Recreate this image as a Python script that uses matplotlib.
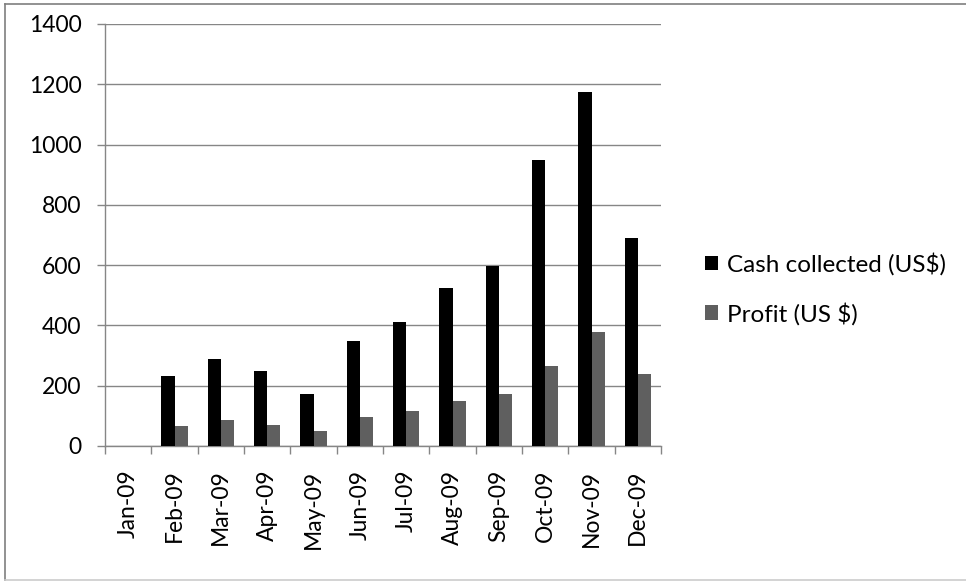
import matplotlib.pyplot as plt
import numpy as np
from matplotlib.lines import Line2D

plt.rcParams['font.family'] = ['Lato', 'DejaVu Sans']

# monthly figures
months = ['Jan-09', 'Feb-09', 'Mar-09', 'Apr-09', 'May-09', 'Jun-09',
          'Jul-09', 'Aug-09', 'Sep-09', 'Oct-09', 'Nov-09', 'Dec-09']
cash = [0, 232, 289, 250, 172, 347, 412, 524, 596, 949, 1173, 690]
profit = [0, 66, 85, 70, 50, 97, 115, 150, 172, 266, 377, 240]

W, H = 966, 581
fig = plt.figure(figsize=(W / 100, H / 100), dpi=100)
ax = fig.add_axes([105 / W, 1 - 446 / H, (661 - 105) / W, (446 - 24) / H])

x = np.arange(len(months))
bw = 1 / 3.5  # Excel style: gap width 150%
ax.bar(x - bw / 2, cash, bw, color='black', label='Cash collected (US$)', zorder=3)
ax.bar(x + bw / 2, profit, bw, color='#5f5f5f', label='Profit (US $)', zorder=3)

ax.set_xlim(-0.5, len(months) - 0.5)
ax.set_ylim(0, 1400)
ax.set_yticks(range(0, 1401, 200))
ax.yaxis.grid(True, color='#868686', linewidth=1, zorder=0)

fs = 16.5
# category labels centred, ticks on boundaries
ax.set_xticks(x)
ax.set_xticklabels(months, rotation=90, fontsize=fs)
ax.set_xticks(np.arange(-0.5, len(months)), minor=True)
ax.tick_params(axis='x', which='major', length=0, pad=17)
ax.tick_params(axis='x', which='minor', length=6, color='#868686', width=1)
ax.tick_params(axis='y', length=6, color='#868686', width=1, labelsize=fs, pad=11)

for s in ['top', 'right']:
    ax.spines[s].set_visible(False)
for s in ['left', 'bottom']:
    ax.spines[s].set_color('#868686')
    ax.spines[s].set_linewidth(1)

ax.legend(loc='center left', bbox_to_anchor=(1.04, 0.372), frameon=False,
          fontsize=17.5, handlelength=0.55, handleheight=0.55,
          handletextpad=0.35, labelspacing=1.1)

# outer frame
fig.add_artist(Line2D([4.5 / W, 1], [1 - 3.5 / H, 1 - 3.5 / H], color='#7f7f7f', lw=1.2))
fig.add_artist(Line2D([4.5 / W, 4.5 / W], [1 - 3.5 / H, 1 - 580 / H], color='#7f7f7f', lw=1.2))
fig.add_artist(Line2D([4.5 / W, 1], [1 - 580 / H, 1 - 580 / H], color='#cccccc', lw=1.2))

fig.savefig('out.png', dpi=100)
